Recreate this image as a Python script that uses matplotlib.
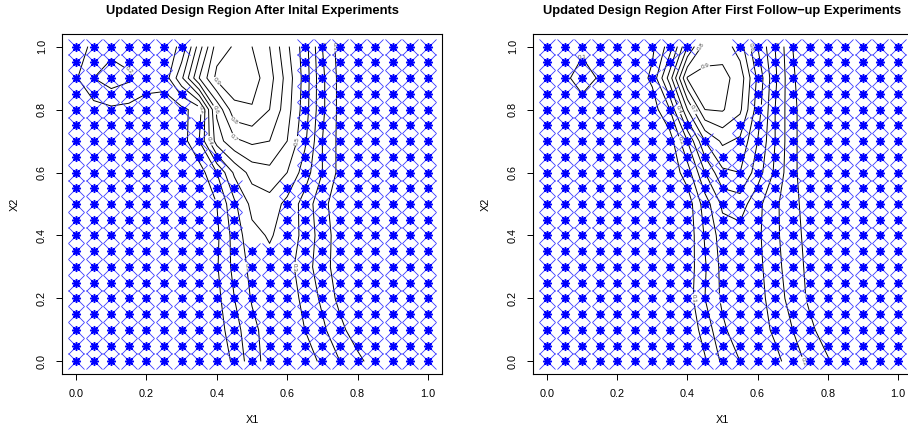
import matplotlib.pyplot as plt
import numpy as np

plt.rcParams['font.family'] = ['Liberation Sans', 'DejaVu Sans']

# design grid levels (X1 and X2 share them)
design_levels = [0.00, 0.05, 0.10, 0.15, 0.20, 0.25, 0.30, 0.35, 0.40, 0.45, 0.50,
                 0.55, 0.60, 0.65, 0.70, 0.75, 0.80, 0.85, 0.90, 0.95, 1.00]

# which design points remain, top row (X2 = 1.0) first, '*' = point kept
kept_initial = [
    "*******......********",
    "******.......********",
    "******.......********",
    "*******......********",
    "*******......********",
    "********.....********",
    "********.....********",
    "*********....********",
    "*********....********",
    "**********..*********",
    "**********..*********",
    "**********..*********",
    "**********..*********",
    "*********************",
    "*********************",
    "*********************",
    "*********************",
    "*********************",
    "*********************",
    "*********************",
    "*********************",
]
kept_followup = [
    "*********..**********",
    "********....*********",
    "*******.....*********",
    "********....*********",
    "********....*********",
    "*********..**********",
    "**********.**********",
] + ["*********************"] * 14

# predicted surface, rows X2 = 0.0 .. 1.0 (step 0.1), columns = design_levels
surf_x2 = [0.0, 0.1, 0.2, 0.3, 0.4, 0.5, 0.6, 0.7, 0.8, 0.9, 1.0]
surf_initial = [
    [0.02, 0.02, 0.02, 0.02, 0.02, 0.02, 0.02, 0.02, 0.03, 0.12, 0.26, 0.34, 0.36, 0.35, 0.28, 0.20, 0.13, 0.05, 0.03, 0.02, 0.02],
    [0.02, 0.02, 0.02, 0.02, 0.02, 0.02, 0.02, 0.02, 0.05, 0.16, 0.27, 0.35, 0.37, 0.30, 0.22, 0.13, 0.04, 0.02, 0.02, 0.02, 0.02],
    [0.02, 0.02, 0.02, 0.02, 0.02, 0.02, 0.02, 0.02, 0.07, 0.20, 0.31, 0.37, 0.36, 0.27, 0.18, 0.07, 0.03, 0.02, 0.02, 0.02, 0.02],
    [0.02, 0.02, 0.02, 0.02, 0.02, 0.02, 0.02, 0.02, 0.09, 0.23, 0.33, 0.37, 0.34, 0.24, 0.15, 0.04, 0.02, 0.02, 0.02, 0.02, 0.02],
    [0.03, 0.03, 0.03, 0.03, 0.03, 0.03, 0.03, 0.03, 0.08, 0.24, 0.37, 0.41, 0.36, 0.27, 0.15, 0.05, 0.03, 0.03, 0.03, 0.03, 0.03],
    [0.03, 0.03, 0.03, 0.03, 0.03, 0.03, 0.03, 0.03, 0.10, 0.28, 0.43, 0.46, 0.37, 0.26, 0.13, 0.04, 0.03, 0.03, 0.03, 0.03, 0.03],
    [0.03, 0.03, 0.03, 0.03, 0.03, 0.03, 0.03, 0.05, 0.20, 0.42, 0.54, 0.57, 0.50, 0.35, 0.20, 0.07, 0.03, 0.03, 0.03, 0.03, 0.03],
    [0.04, 0.04, 0.04, 0.04, 0.04, 0.04, 0.05, 0.20, 0.55, 0.68, 0.72, 0.70, 0.60, 0.42, 0.20, 0.07, 0.04, 0.03, 0.03, 0.03, 0.03],
    [0.05, 0.06, 0.08, 0.07, 0.06, 0.06, 0.07, 0.15, 0.62, 0.87, 0.89, 0.80, 0.64, 0.45, 0.22, 0.07, 0.04, 0.03, 0.03, 0.03, 0.03],
    [0.09, 0.20, 0.26, 0.22, 0.14, 0.13, 0.38, 0.70, 0.93, 0.97, 0.95, 0.84, 0.66, 0.46, 0.22, 0.07, 0.04, 0.03, 0.03, 0.03, 0.03],
    [0.06, 0.12, 0.16, 0.14, 0.13, 0.15, 0.22, 0.55, 0.85, 0.91, 0.90, 0.80, 0.62, 0.45, 0.20, 0.06, 0.04, 0.03, 0.03, 0.03, 0.03],
]
surf_followup = [
    [0.02, 0.02, 0.02, 0.02, 0.02, 0.02, 0.02, 0.02, 0.02, 0.09, 0.22, 0.30, 0.36, 0.33, 0.25, 0.17, 0.11, 0.04, 0.02, 0.02, 0.02],
    [0.02, 0.02, 0.02, 0.02, 0.02, 0.02, 0.02, 0.02, 0.03, 0.14, 0.28, 0.36, 0.35, 0.28, 0.20, 0.12, 0.05, 0.02, 0.02, 0.02, 0.02],
    [0.02, 0.02, 0.02, 0.02, 0.02, 0.02, 0.02, 0.02, 0.05, 0.20, 0.32, 0.36, 0.34, 0.25, 0.16, 0.08, 0.03, 0.02, 0.02, 0.02, 0.02],
    [0.02, 0.02, 0.02, 0.02, 0.02, 0.02, 0.02, 0.02, 0.04, 0.19, 0.33, 0.36, 0.33, 0.23, 0.15, 0.07, 0.03, 0.02, 0.02, 0.02, 0.02],
    [0.02, 0.02, 0.02, 0.02, 0.02, 0.02, 0.02, 0.02, 0.03, 0.21, 0.35, 0.36, 0.32, 0.22, 0.14, 0.06, 0.03, 0.02, 0.02, 0.02, 0.02],
    [0.02, 0.02, 0.02, 0.02, 0.02, 0.02, 0.02, 0.02, 0.04, 0.25, 0.42, 0.45, 0.33, 0.22, 0.13, 0.05, 0.03, 0.02, 0.02, 0.02, 0.02],
    [0.03, 0.03, 0.03, 0.03, 0.03, 0.03, 0.03, 0.03, 0.15, 0.40, 0.58, 0.60, 0.45, 0.28, 0.12, 0.04, 0.03, 0.03, 0.03, 0.03, 0.03],
    [0.03, 0.03, 0.03, 0.03, 0.03, 0.03, 0.03, 0.05, 0.30, 0.60, 0.72, 0.68, 0.50, 0.30, 0.12, 0.04, 0.03, 0.03, 0.03, 0.03, 0.03],
    [0.04, 0.05, 0.06, 0.05, 0.04, 0.04, 0.05, 0.20, 0.60, 0.90, 0.91, 0.82, 0.55, 0.30, 0.12, 0.04, 0.03, 0.03, 0.03, 0.03, 0.03],
    [0.05, 0.08, 0.14, 0.09, 0.05, 0.04, 0.12, 0.45, 0.91, 0.93, 0.93, 0.86, 0.58, 0.32, 0.11, 0.04, 0.03, 0.03, 0.03, 0.03, 0.03],
    [0.03, 0.06, 0.08, 0.07, 0.04, 0.04, 0.08, 0.25, 0.60, 0.85, 0.86, 0.75, 0.50, 0.30, 0.10, 0.04, 0.03, 0.03, 0.03, 0.03, 0.03],
]
contour_levels = [0.1, 0.2, 0.3, 0.4, 0.5, 0.6, 0.7, 0.8, 0.9]
tick_vals = [0.0, 0.2, 0.4, 0.6, 0.8, 1.0]
tick_labels = ["0.0", "0.2", "0.4", "0.6", "0.8", "1.0"]

titles = ["Updated Design Region After Inital Experiments",
          "Updated Design Region After First Follow\u2212up Experiments"]


def draw_panel(ax, surf, kept, title):
    cs = ax.contour(design_levels, surf_x2, np.array(surf), levels=contour_levels,
                    colors='black', linewidths=0.7, zorder=2)
    ax.clabel(cs, fmt='%.1f', fontsize=4.5, inline=True, inline_spacing=1, colors='0.3')

    xs, ys = [], []
    for i, row in enumerate(kept):
        for j, ch in enumerate(row):
            if ch == '*':
                xs.append(design_levels[j])
                ys.append(design_levels[len(kept) - 1 - i])
    ax.plot(xs, ys, linestyle='none', marker='x', ms=11.5, mew=0.6, color='#3a3aff', zorder=3)
    ax.plot(xs, ys, linestyle='none', marker='o', ms=4.5, mew=0, color='blue', zorder=4)
    ax.plot(xs, ys, linestyle='none', marker=(8, 2, 0), ms=6.5, mew=1.0, color='blue', zorder=4)

    ax.set_xlim(-0.04, 1.04)
    ax.set_ylim(-0.04, 1.04)
    ax.set_xticks(tick_vals)
    ax.set_xticklabels(tick_labels, fontsize=7.8)
    ax.set_yticks(tick_vals)
    ax.set_yticklabels(tick_labels, fontsize=7.8, rotation=90, va='center')
    ax.tick_params(length=4, width=0.7, pad=7)
    for s in ax.spines.values():
        s.set_linewidth(0.8)
    ax.text(0.5, 1.068, title, transform=ax.transAxes, ha='center', va='center',
            fontsize=9.3, fontweight='bold')
    ax.text(0.5, -0.135, "X1", transform=ax.transAxes, ha='center', va='center', fontsize=7.8)
    ax.text(-0.125, 0.5, "X2", transform=ax.transAxes, ha='center', va='center',
            fontsize=7.8, rotation=90)


fig = plt.figure(figsize=(9.08, 4.29), dpi=100)
ax_l = fig.add_axes([62 / 908, 1 - 374 / 429, 380 / 908, 340 / 429])
ax_r = fig.add_axes([533 / 908, 1 - 374 / 429, 379 / 908, 340 / 429])
draw_panel(ax_l, surf_initial, kept_initial, titles[0])
draw_panel(ax_r, surf_followup, kept_followup, titles[1])

fig.savefig('out.png', dpi=100)
